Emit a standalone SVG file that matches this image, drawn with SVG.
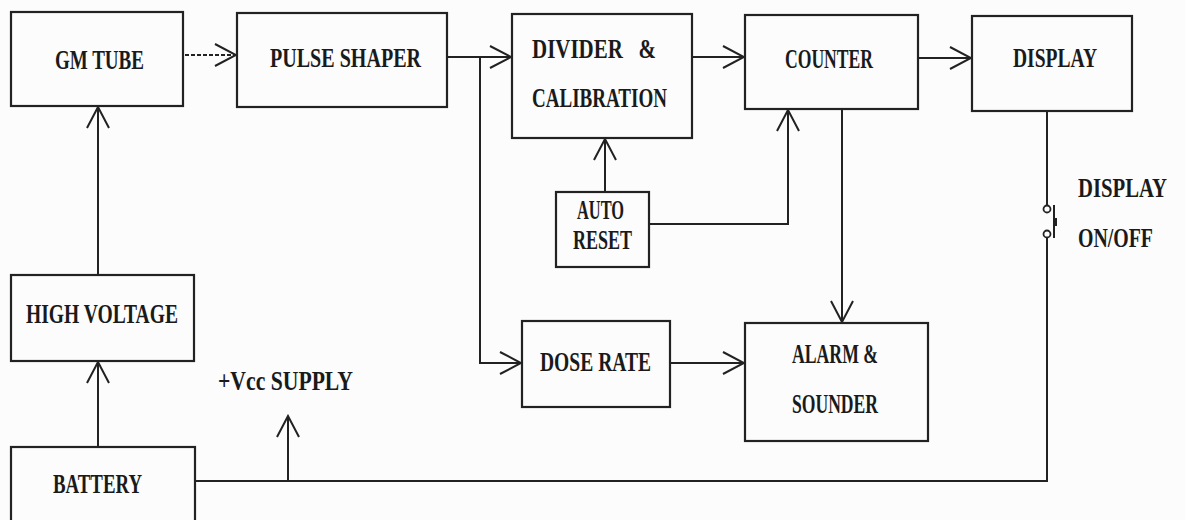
<svg xmlns="http://www.w3.org/2000/svg" width="1185" height="520" viewBox="0 0 1185 520">
<defs>
<style>
.box{fill:none;stroke:#222;stroke-width:2.2}
.ln{fill:none;stroke:#222;stroke-width:2}
.t{font-family:"Liberation Serif","DejaVu Serif",serif;font-size:28px;font-weight:bold;fill:#1a1a1a}
</style>
<marker id="ah" viewBox="-24 -14 26 28" markerWidth="26" markerHeight="28" refX="0" refY="0" orient="auto" markerUnits="userSpaceOnUse">
<path d="M-21,-11 L0,0 L-21,11" fill="none" stroke="#222" stroke-width="2"/>
</marker>
</defs>
<rect width="1185" height="520" fill="#fcfcfc"/>
<g id="connectors">
<path class="ln" d="M185,55 H236" stroke-dasharray="4 2" stroke="#555" marker-end="url(#ah)"/>
<path class="ln" d="M447,57 H511" marker-end="url(#ah)"/>
<path class="ln" d="M480,57 V363 H521" marker-end="url(#ah)"/>
<path class="ln" d="M605,192 V139" marker-end="url(#ah)"/>
<path class="ln" d="M692,57 H744" marker-end="url(#ah)"/>
<path class="ln" d="M650,224 H788 V110" marker-end="url(#ah)"/>
<path class="ln" d="M918,58 H971" marker-end="url(#ah)"/>
<path class="ln" d="M842,109 V322" marker-end="url(#ah)"/>
<path class="ln" d="M670,363 H744" marker-end="url(#ah)"/>
<path class="ln" d="M98,275 V107" marker-end="url(#ah)"/>
<path class="ln" d="M98,447 V362" marker-end="url(#ah)"/>
<path class="ln" d="M195,481 H1047 V237.5"/>
<path class="ln" d="M288,481 V416" marker-end="url(#ah)"/>
<path class="ln" d="M1047,111 V205.5"/>
</g>
<g id="switch">
<circle cx="1047" cy="209" r="3.5" fill="#fff" stroke="#222" stroke-width="1.8"/>
<circle cx="1047" cy="234" r="3.5" fill="#fff" stroke="#222" stroke-width="1.8"/>
<path class="ln" d="M1054,205 V238"/>
<rect x="1054" y="218" width="3" height="8" fill="#222"/>
<text class="t" transform="scale(0.75,1)" x="1437.3" y="197" textLength="118.7" lengthAdjust="spacingAndGlyphs">DISPLAY</text>
<text class="t" transform="scale(0.75,1)" x="1437.3" y="247" textLength="100" lengthAdjust="spacingAndGlyphs">ON/OFF</text>
</g>
<g id="gm-tube">
<rect class="box" x="11" y="12" width="172" height="94"/>
<text class="t" x="55" y="69" textLength="89" lengthAdjust="spacingAndGlyphs">GM TUBE</text>
</g>
<g id="pulse-shaper">
<rect class="box" x="237" y="13" width="210" height="94"/>
<text class="t" x="270" y="67" textLength="151" lengthAdjust="spacingAndGlyphs">PULSE SHAPER</text>
</g>
<g id="divider">
<rect class="box" x="512" y="14" width="180" height="124"/>
<text class="t" x="532" y="58" textLength="124" lengthAdjust="spacingAndGlyphs" style="white-space:pre">DIVIDER   &amp;</text>
<text class="t" x="532" y="107" textLength="135" lengthAdjust="spacingAndGlyphs">CALIBRATION</text>
</g>
<g id="counter">
<rect class="box" x="745" y="15" width="173" height="94"/>
<text class="t" x="785" y="68" textLength="88" lengthAdjust="spacingAndGlyphs">COUNTER</text>
</g>
<g id="display">
<rect class="box" x="972" y="16" width="160" height="95"/>
<text class="t" x="1013" y="67" textLength="84" lengthAdjust="spacingAndGlyphs">DISPLAY</text>
</g>
<g id="auto-reset">
<rect class="box" x="556" y="192" width="93" height="75"/>
<text class="t" x="577" y="219" textLength="47" lengthAdjust="spacingAndGlyphs">AUTO</text>
<text class="t" x="573" y="249" textLength="59" lengthAdjust="spacingAndGlyphs">RESET</text>
</g>
<g id="dose-rate">
<rect class="box" x="522" y="321" width="148" height="86"/>
<text class="t" x="540" y="371" textLength="111" lengthAdjust="spacingAndGlyphs">DOSE RATE</text>
</g>
<g id="alarm-sounder">
<rect class="box" x="745" y="323" width="183" height="118"/>
<text class="t" x="792" y="363" textLength="86" lengthAdjust="spacingAndGlyphs">ALARM &amp;</text>
<text class="t" x="792" y="413" textLength="86" lengthAdjust="spacingAndGlyphs">SOUNDER</text>
</g>
<g id="high-voltage">
<rect class="box" x="11" y="275" width="183" height="86"/>
<text class="t" x="26" y="323" textLength="152" lengthAdjust="spacingAndGlyphs">HIGH VOLTAGE</text>
</g>
<g id="battery">
<rect class="box" x="11" y="447" width="184" height="80"/>
<text class="t" x="53" y="493" textLength="89" lengthAdjust="spacingAndGlyphs">BATTERY</text>
</g>
<g id="vcc-label">
<text class="t" x="218" y="390" textLength="135" lengthAdjust="spacingAndGlyphs">+Vcc SUPPLY</text>
</g>
</svg>
